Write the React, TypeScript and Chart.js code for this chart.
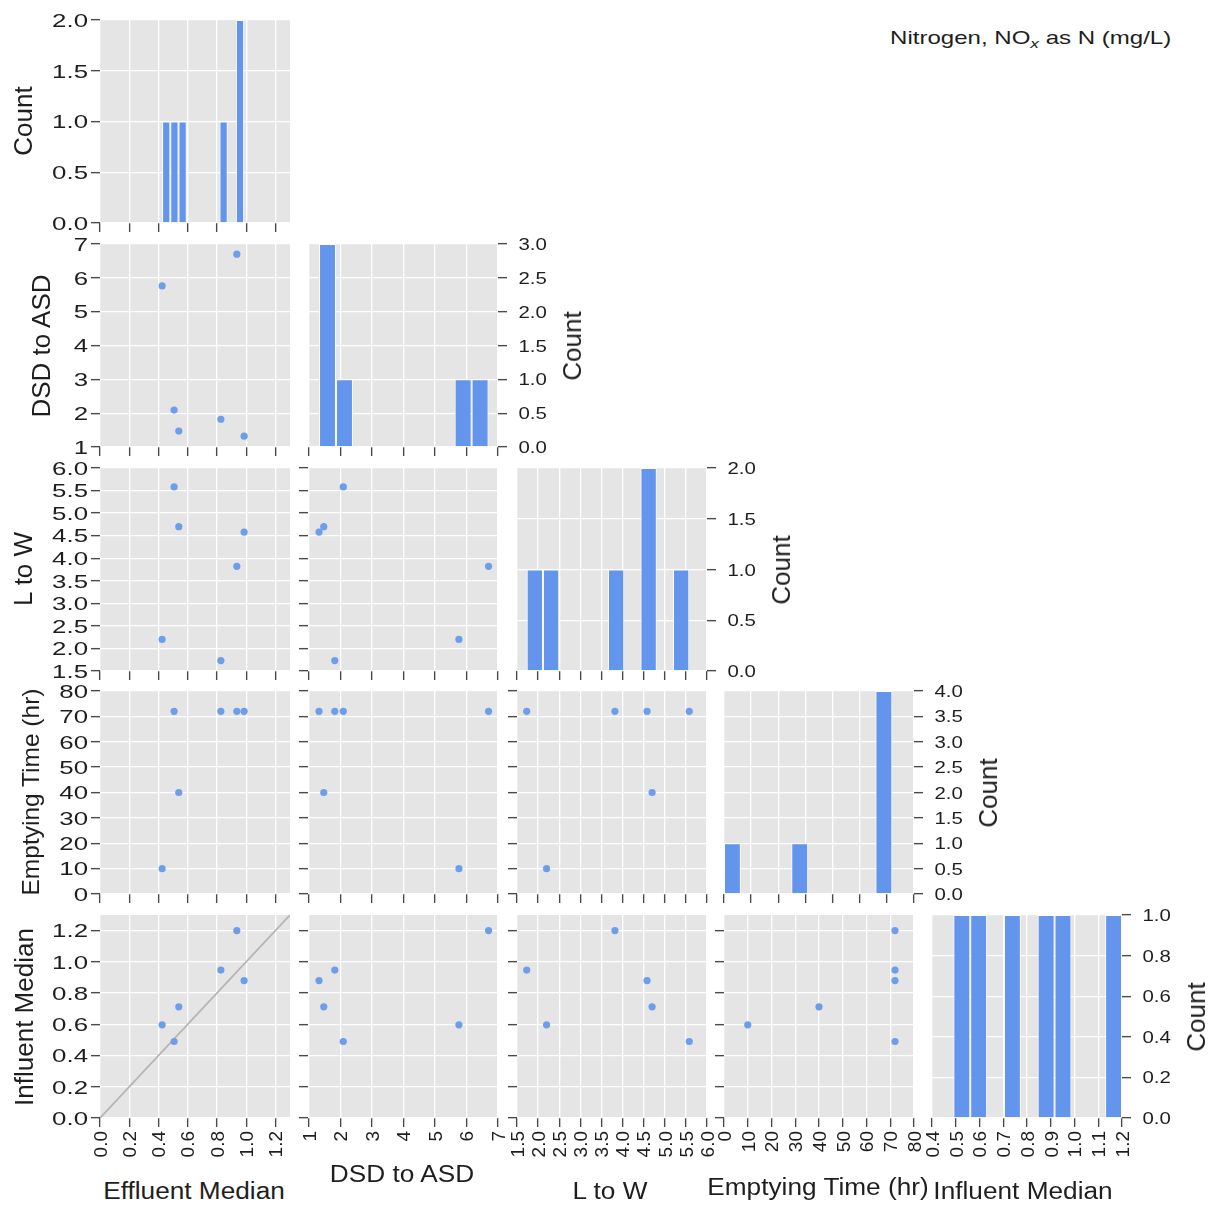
import React, { useEffect, useRef } from 'react';
import { Chart, registerables } from 'chart.js';

Chart.register(...registerables);

// ---------------- data ----------------
const effluentMedian = [0.425, 0.507, 0.539, 0.827, 0.936, 0.986];
const dsdToAsd = [5.76, 2.09, 1.47, 1.82, 6.7, 1.32];
const lToW = [2.2, 5.58, 4.7, 1.73, 3.82, 4.58];
const emptyingTime = [10, 72, 40, 72, 72, 72];
const influentMedian = [0.597, 0.49, 0.712, 0.947, 1.2, 0.88];

const variableLabels = ['Effluent Median', 'DSD to ASD', 'L to W', 'Emptying Time (hr)', 'Influent Median'];

// tick labels
const effluentTicks = [0.0, 0.2, 0.4, 0.6, 0.8, 1.0, 1.2];
const dsdTicks = [1, 2, 3, 4, 5, 6, 7];
const lwTicks = [1.5, 2.0, 2.5, 3.0, 3.5, 4.0, 4.5, 5.0, 5.5, 6.0];
const emptyingTicks = [0, 10, 20, 30, 40, 50, 60, 70, 80];
const emptyingHistTicks = [10, 20, 30, 40, 50, 60, 70, 80];
const influentXTicks = [0.4, 0.5, 0.6, 0.7, 0.8, 0.9, 1.0, 1.1, 1.2];
const influentYTicks = [0.0, 0.2, 0.4, 0.6, 0.8, 1.0, 1.2];

const countTicksEffluent = [0, 0.5, 1.0, 1.5, 2.0];
const countTicksDsd = [0, 0.5, 1.0, 1.5, 2.0, 2.5, 3.0];
const countTicksLw = [0, 0.5, 1.0, 1.5, 2.0];
const countTicksEmptying = [0, 0.5, 1.0, 1.5, 2.0, 2.5, 3.0, 3.5, 4.0];
const countTicksInfluent = [0, 0.2, 0.4, 0.6, 0.8, 1.0];

// identity line endpoints (Effluent = Influent)
const identityLine = [0, 1.3];

const HIST_BINS = 10;

// ---------------- tables built from the arrays ----------------
const seriesList = [effluentMedian, dsdToAsd, lToW, emptyingTime, influentMedian];
const xRanges = [[0, 1.3], [0.97, 7], [1.5, 6], [0, 80], [0.4, 1.2]];
const yRanges = [[0, 1.3], [1, 7], [1.5, 6], [0, 80], [0, 1.3]];
const xTicksList = [effluentTicks, dsdTicks, lwTicks, emptyingTicks, influentXTicks];
const yTicksList = [effluentTicks, dsdTicks, lwTicks, emptyingTicks, influentYTicks];
const histXRanges = [[0, 1.3], [0.97, 7], [1.5, 6], [10, 80], [0.4, 1.2]];
const histXTicks = [effluentTicks, dsdTicks, lwTicks, emptyingHistTicks, influentXTicks];
const countTicksList = [countTicksEffluent, countTicksDsd, countTicksLw, countTicksEmptying, countTicksInfluent];
const decimals = [1, 0, 1, 0, 1];

function histogram(values: number[], bins: number) {
  const lo = Math.min(...values);
  const hi = Math.max(...values);
  const w = (hi - lo) / bins;
  const counts = new Array(bins).fill(0);
  values.forEach((v) => {
    let k = Math.floor((v - lo) / w + 1e-9);
    if (k >= bins) k = bins - 1;
    if (k < 0) k = 0;
    counts[k] += 1;
  });
  return counts.map((n, k) => ({ x: lo + (k + 0.5) * w, y: n }));
}

// ---------------- layout ----------------
const COL_LEFT = [100, 308, 517, 724, 932];
const ROW_TOP = [20, 244, 468, 691, 915];
const PW = 190;
const PH = 203;

const FONT = '"Liberation Sans", Arial, Helvetica, sans-serif';
const TEXT_COLOR = '#1e1e1e';
const BAR_COLOR = '#6495ed';
const POINT_COLOR = '#6d9eeb';
const PANEL_BG = '#e5e5e5';

type LabelSpec = { side: 'left' | 'right' | 'bottom'; values: number[]; dec: number };

function tickTextPlugin(specs: LabelSpec[]) {
  return {
    id: 'tickText',
    afterDraw(chart: any) {
      const ctx = chart.ctx;
      const area = chart.chartArea;
      ctx.save();
      ctx.fillStyle = TEXT_COLOR;
      ctx.textBaseline = 'alphabetic';
      for (const s of specs) {
        const scale = s.side === 'bottom' ? chart.scales.x : chart.scales.y;
        const size = s.side === 'right' ? 17 : 19;
        const sx = s.side === 'left' ? 1.36 : s.side === 'right' ? 1.2 : 1;
        ctx.font = `${size}px ${FONT}`;
        for (const v of s.values) {
          const p = scale.getPixelForValue(v);
          const txt = v.toFixed(s.dec);
          ctx.save();
          if (s.side === 'left') {
            ctx.translate(area.left - 12, p + 0.358 * size);
            ctx.scale(sx, 1);
            ctx.textAlign = 'right';
          } else if (s.side === 'right') {
            ctx.translate(area.right + 20.5, p + 0.358 * size);
            ctx.scale(sx, 1);
            ctx.textAlign = 'left';
          } else {
            ctx.translate(p + 0.358 * size, area.bottom + 13);
            ctx.rotate(-Math.PI / 2);
            ctx.textAlign = 'right';
          }
          ctx.fillText(txt, 0, 0);
          ctx.restore();
        }
      }
      ctx.restore();
    },
  };
}

const bgPlugin = {
  id: 'panelBg',
  beforeDraw(chart: any) {
    const { ctx, chartArea: a } = chart;
    ctx.save();
    ctx.fillStyle = PANEL_BG;
    ctx.fillRect(a.left, a.top, a.right - a.left, a.bottom - a.top);
    ctx.restore();
  },
};

function scaleOpts(position: string, range: number[], ticks: number[], thickness: number) {
  return {
    type: 'linear',
    position,
    min: range[0],
    max: range[1],
    offset: false,
    bounds: 'data',
    afterBuildTicks: (s: any) => {
      s.ticks = ticks.map((v) => ({ value: v }));
    },
    afterFit: (s: any) => {
      if (position === 'bottom') s.height = thickness;
      else s.width = thickness;
    },
    ticks: { display: false, autoSkip: false },
    grid: {
      display: true,
      color: '#ffffff',
      lineWidth: 1.3,
      drawOnChartArea: true,
      drawTicks: true,
      tickLength: 9,
      tickColor: '#4a4a4a',
      tickWidth: 1.4,
      offset: false,
    },
    border: { display: false },
    title: { display: false },
  };
}

function geometry(r: number, c: number) {
  const isHist = r === c;
  const yRight = isHist && r > 0;
  const ML = c === 0 ? 100 : 14;
  const MR = yRight ? 64 : 14;
  const MT = 6;
  const MB = r === 4 ? 50 : 14;
  return {
    isHist,
    yRight,
    ML,
    MR,
    MT,
    MB,
    left: COL_LEFT[c] - ML,
    top: ROW_TOP[r] - MT,
    w: ML + PW + MR,
    h: MT + PH + MB,
  };
}

function buildConfig(r: number, c: number): any {
  const g = geometry(r, c);
  const xRange = g.isHist ? histXRanges[c] : xRanges[c];
  const xTicks = g.isHist ? histXTicks[c] : xTicksList[c];
  const cTicks = countTicksList[r];
  const yRange = g.isHist ? [0, cTicks[cTicks.length - 1]] : yRanges[r];
  const yTicks = g.isHist ? cTicks : yTicksList[r];
  const yPos = g.yRight ? 'right' : 'left';

  const labelSpecs: LabelSpec[] = [];
  if (r === 4) labelSpecs.push({ side: 'bottom', values: xTicks, dec: decimals[c] });
  if (c === 0) labelSpecs.push({ side: 'left', values: yTicks, dec: g.isHist ? 1 : decimals[r] });
  if (g.yRight) labelSpecs.push({ side: 'right', values: yTicks, dec: 1 });

  const common = {
    animation: false,
    responsive: false,
    maintainAspectRatio: false,
    devicePixelRatio: 1,
    events: [],
    layout: {
      autoPadding: false,
      padding: {
        top: g.MT,
        bottom: 0,
        left: yPos === 'left' ? 0 : g.ML,
        right: yPos === 'right' ? 0 : g.MR,
      },
    },
    plugins: { legend: { display: false }, tooltip: { enabled: false }, title: { display: false } },
    scales: {
      x: scaleOpts('bottom', xRange, xTicks, g.MB),
      y: scaleOpts(yPos, yRange, yTicks, yPos === 'left' ? g.ML : g.MR),
    },
  };

  if (g.isHist) {
    return {
      type: 'bar',
      data: {
        datasets: [
          {
            data: histogram(seriesList[c], HIST_BINS),
            backgroundColor: (ctx: any) => (ctx.raw && ctx.raw.y > 0 ? BAR_COLOR : 'rgba(0,0,0,0)'),
            borderColor: (ctx: any) => (ctx.raw && ctx.raw.y > 0 ? 'rgba(255,255,255,0.9)' : 'rgba(0,0,0,0)'),
            borderWidth: (ctx: any) => (ctx.raw && ctx.raw.y > 0 ? 1 : 0),
            inflateAmount: 0,
            barPercentage: 1,
            categoryPercentage: 1,
          },
        ],
      },
      options: common,
      plugins: [bgPlugin, tickTextPlugin(labelSpecs)],
    };
  }

  const xs = seriesList[c];
  const ys = seriesList[r];
  const datasets: any[] = [
    {
      data: xs.map((x, i) => ({ x, y: ys[i] })),
      backgroundColor: POINT_COLOR,
      borderWidth: 0,
      pointRadius: 3.6,
      showLine: false,
    },
  ];
  if (r === 4 && c === 0) {
    datasets.push({
      data: identityLine.map((v) => ({ x: v, y: v })),
      borderColor: '#b4b4b4',
      borderWidth: 1.8,
      pointRadius: 0,
      showLine: true,
      fill: false,
    });
  }
  return {
    type: 'scatter',
    data: { datasets },
    options: common,
    plugins: [bgPlugin, tickTextPlugin(labelSpecs)],
  };
}

function Panel({ r, c }: { r: number; c: number }) {
  const ref = useRef<HTMLCanvasElement>(null);
  const g = geometry(r, c);
  useEffect(() => {
    if (!ref.current) return;
    const chart = new Chart(ref.current, buildConfig(r, c));
    return () => chart.destroy();
  }, [r, c]);
  return (
    <canvas
      ref={ref}
      width={g.w}
      height={g.h}
      style={{ position: 'absolute', left: g.left, top: g.top, width: g.w, height: g.h }}
    />
  );
}

function TextLabel({
  text,
  cx,
  cy,
  size,
  rotate,
  sx,
}: {
  text: string;
  cx: number;
  cy: number;
  size: number;
  rotate?: boolean;
  sx?: number;
}) {
  const tf = rotate ? 'translate(-50%,-50%) rotate(-90deg)' : `translate(-50%,-50%) scaleX(${sx ?? 1})`;
  return (
    <div
      style={{
        position: 'absolute',
        left: cx,
        top: cy,
        transform: tf,
        fontFamily: FONT,
        fontSize: size,
        lineHeight: `${size}px`,
        whiteSpace: 'nowrap',
        color: TEXT_COLOR,
      }}
    >
      {text}
    </div>
  );
}

// axis-title placement
const bottomTitlePos = [
  [194, 1190.5],
  [402, 1173.5],
  [610, 1190.5],
  [818, 1186.5],
  [1023, 1191],
];
const leftTitlePos = [
  [22.5, 121],
  [40.5, 346],
  [22.5, 569],
  [31, 792],
  [23.5, 1017],
];
const leftTitleSize = [26, 26, 26, 24.5, 26];

export default function App() {
  const panels: any[] = [];
  for (let r = 0; r < 5; r++) {
    for (let c = 0; c <= r; c++) panels.push(<Panel key={`${r}-${c}`} r={r} c={c} />);
  }
  const labels: any[] = [];
  variableLabels.forEach((name, i) => {
    labels.push(
      <TextLabel key={`b${i}`} text={name} cx={bottomTitlePos[i][0]} cy={bottomTitlePos[i][1]} size={23} sx={1.14} />
    );
    labels.push(
      <TextLabel
        key={`l${i}`}
        text={i === 0 ? 'Count' : name}
        cx={leftTitlePos[i][0]}
        cy={leftTitlePos[i][1]}
        size={leftTitleSize[i]}
        rotate
      />
    );
    if (i > 0) {
      labels.push(
        <TextLabel
          key={`r${i}`}
          text="Count"
          cx={COL_LEFT[i] + PW + 74}
          cy={ROW_TOP[i] + PH / 2}
          size={26}
          rotate
        />
      );
    }
  });
  return (
    <div
      style={{
        position: 'absolute',
        left: 0,
        top: 0,
        width: 1210,
        height: 1205,
        background: '#ffffff',
        overflow: 'hidden',
        fontFamily: FONT,
      }}
    >
      {panels}
      {labels}
      <div
        style={{
          position: 'absolute',
          right: 39,
          top: 28,
          fontFamily: FONT,
          fontSize: 19,
          lineHeight: '20px',
          color: TEXT_COLOR,
          whiteSpace: 'nowrap',
          transform: 'scaleX(1.265)',
          transformOrigin: 'right center',
        }}
      >
        Nitrogen, NO
        <span style={{ fontStyle: 'italic', fontSize: '0.72em', position: 'relative', top: '0.3em' }}>x</span> as N
        (mg/L)
      </div>
    </div>
  );
}
